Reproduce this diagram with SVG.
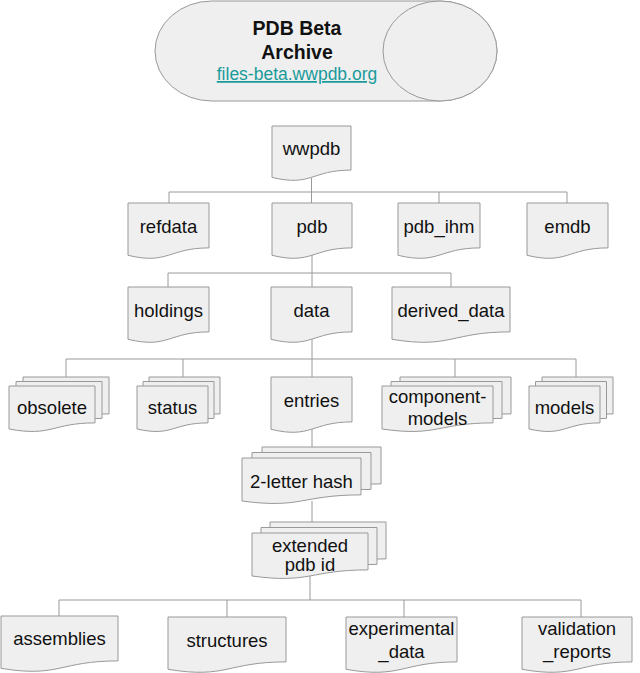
<svg xmlns="http://www.w3.org/2000/svg" width="640" height="673" viewBox="0 0 640 673">
<style>
.n{fill:#efefef;stroke:#999;stroke-width:1}
.c{fill:none;stroke:#9a9a9a;stroke-width:1}
text{font-family:"Liberation Sans",Arial,sans-serif;font-size:18.5px;fill:#111;text-anchor:middle}
.b{font-weight:bold;font-size:19.5px}
.l{font-size:17.5px;fill:#1a9b9b;text-decoration:underline}
</style>
<rect width="640" height="673" fill="#fff"/>
<g id="connectors">
<path class="c" d="M311.5,178V192M169,203V192H567V203M311.5,192V203M439,192V203"/>
<path class="c" d="M312,255V273M168,287V273H451V287M312,273V287"/>
<path class="c" d="M312,339V359M66,377V359H576V377M183,359V377M312,359V377M455,359V377"/>
<path class="c" d="M312,429V447M312,501V522M310,576V600M59,616V600H581V617M227,600V617M404,600V617"/>
</g>
<g id="archive">
<path class="n" d="M212,1H440A57,50 0 0 1 440,101H212A57,50 0 0 1 212,1Z"/>
<ellipse class="n" cx="440" cy="51" rx="57" ry="50"/>
<text class="b" x="297" y="35">PDB Beta</text>
<text class="b" x="297" y="59">Archive</text>
<text class="l" x="297" y="80">files-beta.wwpdb.org</text>
</g>
<g id="wwpdb"><path class="n" d="M272,126H351V170.1C311.5,170.1 311.5,186.9 272,177.4Z"/><text x="311.5" y="155">wwpdb</text></g>
<g id="refdata"><path class="n" d="M128,203H209V247.9C168.5,247.9 168.5,265 128,255.3Z"/><text x="168.5" y="233">refdata</text></g>
<g id="pdb"><path class="n" d="M272,203H352V247.9C312,247.9 312,265 272,255.3Z"/><text x="312" y="233">pdb</text></g>
<g id="pdb_ihm"><path class="n" d="M398,203H480V247.9C439,247.9 439,265 398,255.3Z"/><text x="439" y="233">pdb_ihm</text></g>
<g id="emdb"><path class="n" d="M527,203H608V247.9C567.5,247.9 567.5,265 527,255.3Z"/><text x="567.5" y="233">emdb</text></g>
<g id="holdings"><path class="n" d="M128,287H209V331.9C168.5,331.9 168.5,349 128,339.3Z"/><text x="168.5" y="317">holdings</text></g>
<g id="data"><path class="n" d="M271,287H352V331.9C311.5,331.9 311.5,349 271,339.3Z"/><text x="311.5" y="317">data</text></g>
<g id="derived_data"><path class="n" d="M392,287H510V331.9C451,331.9 451,349 392,339.3Z"/><text x="451" y="317">derived_data</text></g>
<g id="obsolete">
<path class="n" d="M23,377H109V413.9C66,413.9 66,428 23,420Z"/>
<path class="n" d="M16,381.5H102V418.4C59,418.4 59,432.5 16,424.5Z"/>
<path class="n" d="M9,386H95V422.9C52,422.9 52,437 9,429Z"/>
<text x="52" y="414">obsolete</text></g>
<g id="status">
<path class="n" d="M149,377H220V413.9C184.5,413.9 184.5,428 149,420Z"/>
<path class="n" d="M143,381.5H214V418.4C178.5,418.4 178.5,432.5 143,424.5Z"/>
<path class="n" d="M137,386H208V422.9C172.5,422.9 172.5,437 137,429Z"/>
<text x="172.5" y="414">status</text></g>
<g id="entries"><path class="n" d="M271,377H352V421.9C311.5,421.9 311.5,439 271,429.3Z"/><text x="311.5" y="407">entries</text></g>
<g id="component-models">
<path class="n" d="M400,377H511V413.9C455.5,413.9 455.5,428 400,420Z"/>
<path class="n" d="M391,381.5H502V418.4C446.5,418.4 446.5,432.5 391,424.5Z"/>
<path class="n" d="M382,386H493V422.9C437.5,422.9 437.5,437 382,429Z"/>
<text x="437.5" y="403">component-</text><text x="437.5" y="425">models</text></g>
<g id="models">
<path class="n" d="M542,377H613V413.9C577.5,413.9 577.5,428 542,420Z"/>
<path class="n" d="M535.5,381.5H606.5V418.4C571,418.4 571,432.5 535.5,424.5Z"/>
<path class="n" d="M529,386H600V422.9C564.5,422.9 564.5,437 529,429Z"/>
<text x="564.5" y="414">models</text></g>
<g id="hash">
<path class="n" d="M262,447H381V483.9C321.5,483.9 321.5,498 262,490Z"/>
<path class="n" d="M252,452.5H371V489.4C311.5,489.4 311.5,503.5 252,495.5Z"/>
<path class="n" d="M242,458H361V494.9C301.5,494.9 301.5,509 242,501Z"/>
<text x="301.5" y="488">2-letter hash</text></g>
<g id="extended_pdb_id">
<path class="n" d="M270,522H386V558.9C328,558.9 328,573 270,565Z"/>
<path class="n" d="M261,527.5H377V564.4C319,564.4 319,578.5 261,570.5Z"/>
<path class="n" d="M252,533H368V569.9C310,569.9 310,584 252,576Z"/>
<text x="310" y="552">extended</text><text x="310" y="571">pdb id</text></g>
<g id="assemblies"><path class="n" d="M1,616H118V660.9C59.5,660.9 59.5,678 1,668.3Z"/><text x="59.5" y="645">assemblies</text></g>
<g id="structures"><path class="n" d="M168,617H286V661.9C227,661.9 227,679 168,669.3Z"/><text x="227" y="647">structures</text></g>
<g id="experimental_data"><path class="n" d="M346,617H457V661.9C401.5,661.9 401.5,679 346,669.3Z"/><text x="401.5" y="635">experimental</text><text x="401.5" y="658">_data</text></g>
<g id="validation_reports"><path class="n" d="M522,617H632V661.9C577,661.9 577,679 522,669.3Z"/><text x="577" y="635">validation</text><text x="577" y="658">_reports</text></g>
</svg>
